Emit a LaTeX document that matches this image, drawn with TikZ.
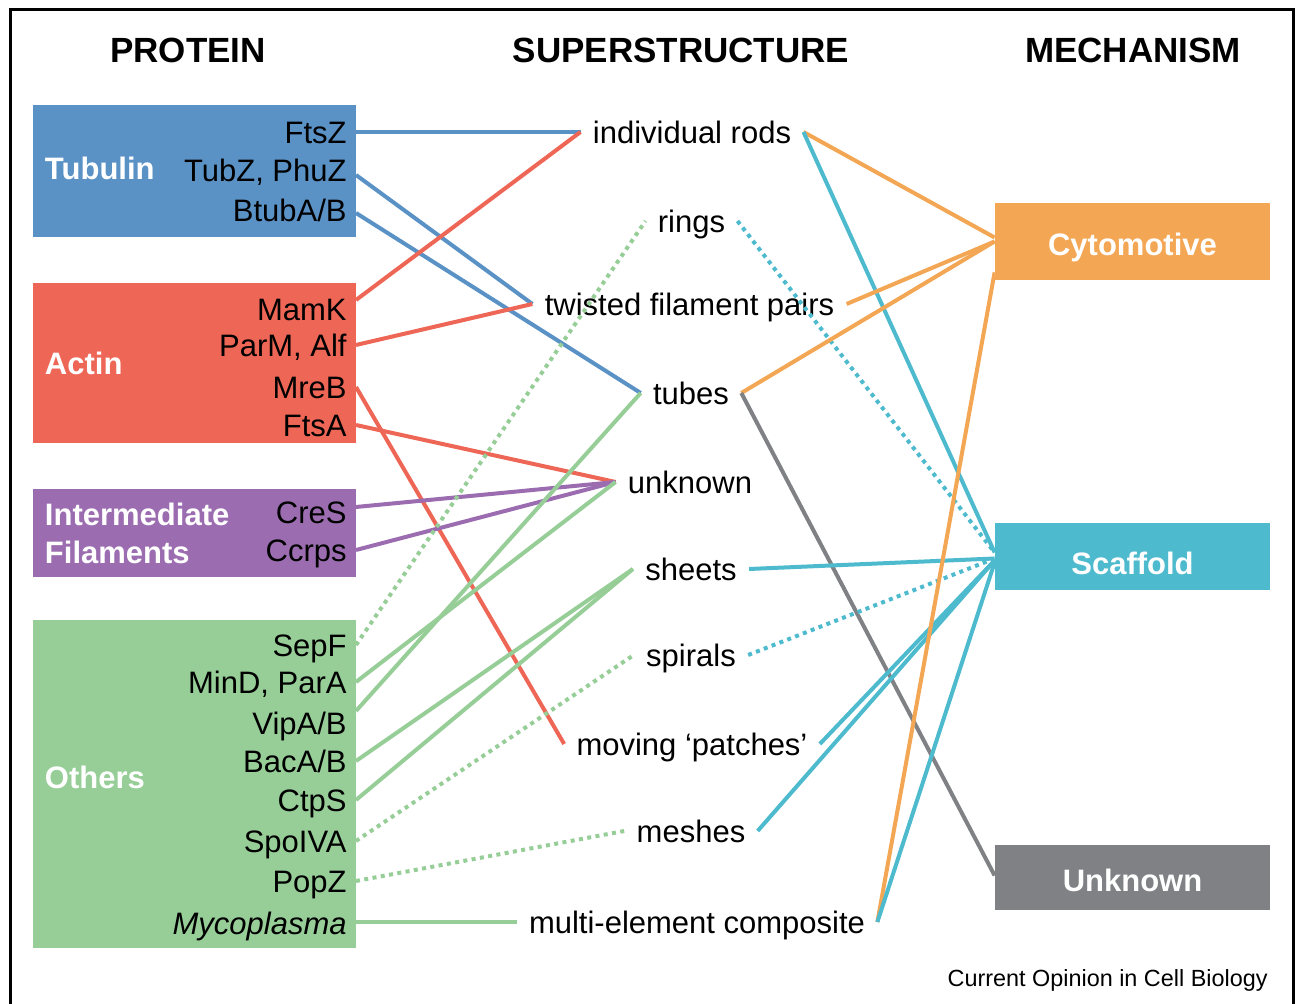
\documentclass[tikz,border=0pt]{standalone}
\usepackage{fontspec}
\setmainfont{Liberation Sans}
\usetikzlibrary{positioning, calc}
\definecolor{tubblue}{RGB}{90,146,198}
\definecolor{actred}{RGB}{238,102,85}
\definecolor{ifpurple}{RGB}{155,109,176}
\definecolor{othgreen}{RGB}{151,206,152}
\definecolor{cytorange}{RGB}{243,166,83}
\definecolor{scafcyan}{RGB}{77,186,206}
\definecolor{unkgray}{RGB}{128,129,132}
\tikzset{
  header/.style={font=\bfseries\fontsize{17.5}{21}\selectfont, inner sep=0pt},
  groupbox/.style={rectangle, minimum width=161.5pt, inner sep=0pt},
  grouplabel/.style={font=\bfseries\fontsize{15.5}{19}\selectfont, text=white, inner sep=0pt, align=left},
  protein/.style={font=\fontsize{15.5}{19}\selectfont, anchor=east, inner xsep=4.5pt, inner ysep=0pt, text height=11.1pt, text depth=0pt},
  struct/.style={font=\fontsize{15.5}{19}\selectfont, inner xsep=6pt, inner ysep=0pt, text height=11.1pt, text depth=0pt},
  mech/.style={rectangle, minimum width=137.5pt, inner sep=0pt, text=white, text depth=0pt, font=\bfseries\fontsize{15.5}{19}\selectfont},
  link/.style={line width=2pt},
  dotlink/.style={link, dash pattern=on 2pt off 2.2pt},
}

\begin{document}
\begin{tikzpicture}[x=0.5pt, y=-0.5pt]
  \useasboundingbox (0,0) rectangle (1298,1004);
  \draw[line width=1.5pt] (10,1004) -- (10,10) -- (1293,10) -- (1293,1004);

  % column headers
  \node[header] (hprot) at (188,50) {PROTEIN};
  \node[header] (hsup) at (681,50) {SUPERSTRUCTURE};
  \node[header] (hmech) at (1133,50) {MECHANISM};

  % protein families
  \node[groupbox, fill=tubblue, minimum height=66pt] (tubulin) at (194.5,171) {};
  \node[groupbox, fill=actred, minimum height=80pt] (actin) at (194.5,363) {};
  \node[groupbox, fill=ifpurple, minimum height=44pt] (interm) at (194.5,533) {};
  \node[groupbox, fill=othgreen, minimum height=164pt] (others) at (194.5,784) {};
  \node[grouplabel, right=6pt of tubulin.west, yshift=1.5pt] (tublab) {Tubulin};
  \node[grouplabel, right=6pt of actin.west] (actlab) {Actin};
  \node[grouplabel, right=6pt of interm.west] (intlab) {Intermediate\\Filaments};
  \node[grouplabel, right=6pt of others.west, yshift=3.5pt] (othlab) {Others};

  \node[protein] (ftsz) at (356,132) {FtsZ};
  \node[protein] (tubz) at (356,170) {TubZ, PhuZ};
  \node[protein] (btub) at (356,210) {BtubA/B};
  \node[protein] (mamk) at (356,309) {MamK};
  \node[protein] (parm) at (356,345) {ParM, Alf};
  \node[protein] (mreb) at (356,387) {MreB};
  \node[protein] (ftsa) at (356,425) {FtsA};
  \node[protein] (cres) at (356,512) {CreS};
  \node[protein] (ccrp) at (356,550) {Ccrps};
  \node[protein] (sepf) at (356,645) {SepF};
  \node[protein] (mind) at (356,682) {MinD, ParA};
  \node[protein] (vipa) at (356,723) {VipA/B};
  \node[protein] (baca) at (356,761) {BacA/B};
  \node[protein] (ctps) at (356,800) {CtpS};
  \node[protein] (spoiva) at (356,841) {SpoIVA};
  \node[protein] (popz) at (356,881) {PopZ};
  \node[protein] (myco) at (356,923) {\itshape Mycoplasma};

  % superstructures
  \node[struct] (rods) at (692,132) {individual rods};
  \node[struct] (rings) at (691.5,221) {rings};
  \node[struct] (twisted) at (689.5,304) {twisted filament pairs};
  \node[struct] (tubes) at (691,393) {tubes};
  \node[struct] (unkn) at (690,482) {unknown};
  \node[struct] (sheets) at (691,569) {sheets};
  \node[struct] (spirals) at (691,655) {spirals};
  \node[struct] (patches) at (692,744) {moving ‘patches’};
  \node[struct] (meshes) at (691,831) {meshes};
  \node[struct] (composite) at (697,922) {multi-element composite};

  % mechanisms
  \node[mech, fill=cytorange, minimum height=38.5pt, text height=13.6pt] (cyto) at (1132.5,241.5) {Cytomotive};
  \node[mech, fill=scafcyan, minimum height=33.5pt, text height=17.6pt] (scaf) at (1132.5,556.5) {Scaffold};
  \node[mech, fill=unkgray, minimum height=32.5pt, text height=13.6pt] (unk) at (1132.5,877.5) {Unknown};

  \node[font=\fontsize{11.7}{14}\selectfont, anchor=east, inner sep=0pt] (credit) at (1268,980) {Current Opinion in Cell Biology};

  % protein -> superstructure
  \draw[link, tubblue] (ftsz.east) -- (rods.west);
  \draw[link, tubblue] ([yshift=-2.5pt]tubz.east) -- (twisted.west);
  \draw[link, tubblue] ([yshift=-1.5pt]btub.east) -- (tubes.west);
  \draw[link, actred] ([yshift=4.5pt]mamk.east) -- (rods.west);
  \draw[link, actred] (parm.east) -- (twisted.west);
  \draw[link, actred] (mreb.east) -- (patches.west);
  \draw[link, actred] (ftsa.east) -- (unkn.west);
  \draw[link, ifpurple] ([yshift=2.5pt]cres.east) -- (unkn.west);
  \draw[link, ifpurple] (ccrp.east) -- (unkn.west);
  \draw[dotlink, othgreen] (sepf.east) -- (rings.west);
  \draw[link, othgreen] (mind.east) -- (unkn.west);
  \draw[link, othgreen] ([yshift=6pt]vipa.east) -- (tubes.west);
  \draw[link, othgreen] (baca.east) -- (sheets.west);
  \draw[link, othgreen] (ctps.east) -- (sheets.west);
  \draw[dotlink, othgreen] (spoiva.east) -- (spirals.west);
  \draw[dotlink, othgreen] (popz.east) -- (meshes.west);
  \draw[link, othgreen] ([yshift=0.5pt]myco.east) -- (composite.west);

  % superstructure -> mechanism
  \draw[link, cytorange] (rods.east) -- ([yshift=2pt]cyto.west);
  \draw[link, scafcyan] (rods.east) -- ([yshift=2pt]scaf.west);
  \draw[dotlink, scafcyan] (rings.east) -- ([yshift=2pt]scaf.west);
  \draw[link, cytorange] (twisted.east) -- (cyto.west);
  \draw[link, cytorange] (tubes.east) -- (cyto.west);
  \draw[link, unkgray] (tubes.east) -- ([yshift=1pt]unk.west);
  \draw[link, scafcyan] (sheets.east) -- ([yshift=-1pt]scaf.west);
  \draw[dotlink, scafcyan] (spirals.east) -- ([yshift=-1pt]scaf.west);
  \draw[link, scafcyan] (patches.east) -- ([yshift=-2pt]scaf.west);
  \draw[link, scafcyan] (meshes.east) -- ([yshift=-2pt]scaf.west);
  \draw[link, cytorange] (composite.east) -- ([yshift=4pt]cyto.south west);
  \draw[link, scafcyan] (composite.east) -- ([yshift=-3pt]scaf.west);
\end{tikzpicture}
\end{document}
